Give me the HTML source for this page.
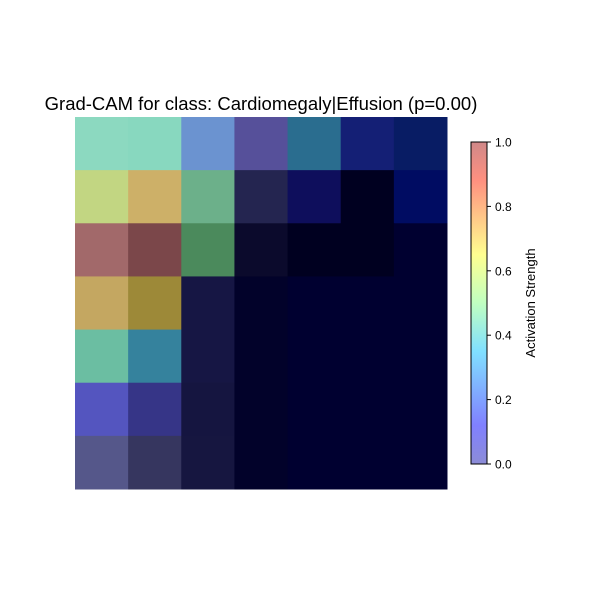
<!DOCTYPE html>
<html><head><meta charset="utf-8"><style>
body{margin:0;background:#fff;font-family:"Liberation Sans",sans-serif}
</style></head><body>
<svg id="chart" width="600" height="600" xmlns="http://www.w3.org/2000/svg">
<defs>
<linearGradient id="jet" x1="0" y1="1" x2="0" y2="0">
<stop offset="0" stop-color="#8c8cd6"/>
<stop offset="0.12" stop-color="#8080ff"/>
<stop offset="0.35" stop-color="#80e0ff"/>
<stop offset="0.5" stop-color="#c0ffc0"/>
<stop offset="0.65" stop-color="#ffff90"/>
<stop offset="0.88" stop-color="#ff9080"/>
<stop offset="1" stop-color="#d08888"/>
</linearGradient>
</defs>
<text x="261" y="110" font-size="18.5" text-anchor="middle" fill="#000">Grad-CAM for class: Cardiomegaly|Effusion (p=0.00)</text>
<g id="cells"></g>
<rect x="471" y="142" width="16" height="322" fill="url(#jet)" stroke="#000" stroke-width="1"/>
<g id="cbticks"></g>
<text transform="translate(535,303) rotate(-90)" font-size="13" text-anchor="middle">Activation Strength</text>
</svg>
<script>
const cellColors = [
["#8cd9c0","#88d8bf","#6b93d0","#56509a","#2a6d8f","#141f75","#081c64"],
["#c2d682","#cdb068","#6cb08a","#242550","#0e0e5c","#000020","#000c62"],
["#a2696a","#7b474a","#4b8a5c","#0b0a2c","#000020","#000020","#000030"],
["#c4a761","#9d8938","#161644","#02022a","#000030","#000030","#000030"],
["#6bbea2","#35829d","#161644","#02022a","#000030","#000030","#000030"],
["#5455bf","#363587","#151540","#02022a","#000030","#000030","#000030"],
["#55578a","#36365f","#161640","#02022a","#000030","#000030","#000030"]
];
const cbTicks = [0.0,0.2,0.4,0.6,0.8,1.0];
const NS="http://www.w3.org/2000/svg";
const x0=75,y0=117,W=372,H=372;
const n=cellColors.length, cw=W/cellColors[0].length, ch=H/n;
const g=document.getElementById('cells');
cellColors.forEach((row,r)=>row.forEach((c,k)=>{
 const e=document.createElementNS(NS,'rect');
 e.setAttribute('x',x0+k*cw);e.setAttribute('y',y0+r*ch);
 e.setAttribute('width',cw+0.5);e.setAttribute('height',ch+0.5);
 e.setAttribute('fill',c);
 
 
 g.appendChild(e);
}));
const t=document.getElementById('cbticks');
const cy=v=>464-v*322;
cbTicks.forEach(v=>{
 const l=document.createElementNS(NS,'line');
 l.setAttribute('x1',487);l.setAttribute('x2',491);l.setAttribute('y1',cy(v));l.setAttribute('y2',cy(v));l.setAttribute('stroke','#000');
 
 
 t.appendChild(l);
 const s=document.createElementNS(NS,'text');
 s.setAttribute('x',495);s.setAttribute('y',cy(v)+4.5);s.setAttribute('font-size','12');
 s.textContent=v.toFixed(1);
 
 
 t.appendChild(s);
});
</script>
</body></html>
